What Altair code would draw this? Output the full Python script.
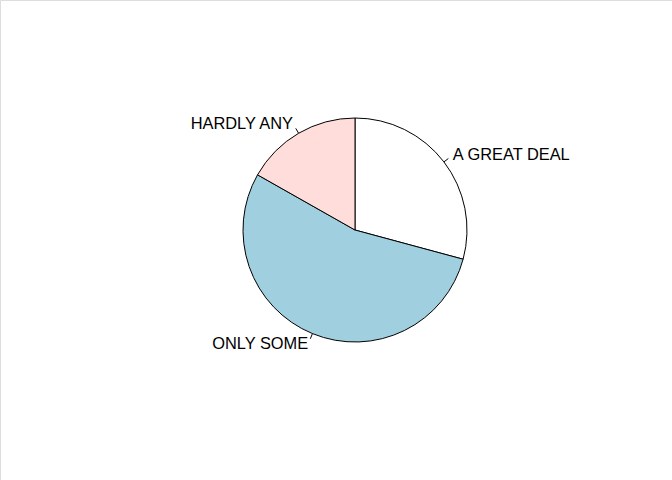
import math
import altair as alt
import pandas as pd

labels = ["A GREAT DEAL", "ONLY SOME", "HARDLY ANY"]
values = [29.2, 54.0, 16.8]
colors = ["#FFFFFF", "#A0D0E0", "#FFDDDB"]

R = 112.0
CX, CY = 355.0, 230.0
W, H = 672, 480

total = sum(values)
rows = []
cum = 0.0
for i, (lab, v) in enumerate(zip(labels, values)):
    mid = (cum + v / 2) / total * 2 * math.pi
    cum += v
    sx, sy = math.sin(mid), math.cos(mid)
    rows.append(dict(idx=i, label=lab, value=v,
                     tx0=sx, ty0=sy, tx1=1.05 * sx, ty1=1.05 * sy,
                     lx=1.1 * sx, ly=1.1 * sy,
                     side="right" if sx > 0 else "left"))
df = pd.DataFrame(rows)

xs = alt.Scale(domain=[-CX / R, (W - CX) / R], nice=False, zero=False)
ys = alt.Scale(domain=[-(H - CY) / R, CY / R], nice=False, zero=False)

base = alt.Chart(df)

pie = base.mark_arc(outerRadius=R, stroke="black", strokeWidth=1).encode(
    theta=alt.Theta("value:Q", stack=True),
    color=alt.Color("label:N", scale=alt.Scale(domain=labels, range=colors), legend=None),
    order=alt.Order("idx:Q"),
    x=alt.value(CX),
    y=alt.value(CY),
)

ticks = base.mark_rule(color="black", strokeWidth=1).encode(
    x=alt.X("tx0:Q", scale=xs, axis=None),
    y=alt.Y("ty0:Q", scale=ys, axis=None),
    x2="tx1:Q",
    y2="ty1:Q",
)

txt_r = base.transform_filter(alt.datum.side == "right").mark_text(
    align="left", baseline="middle", font="Liberation Sans", fontSize=16.4, color="black"
).encode(
    x=alt.X("lx:Q", scale=xs, axis=None),
    y=alt.Y("ly:Q", scale=ys, axis=None),
    text="label:N",
)

txt_l = base.transform_filter(alt.datum.side == "left").mark_text(
    align="right", baseline="middle", font="Liberation Sans", fontSize=16.4, color="black"
).encode(
    x=alt.X("lx:Q", scale=xs, axis=None),
    y=alt.Y("ly:Q", scale=ys, axis=None),
    text="label:N",
)

chart = alt.layer(pie, ticks, txt_r, txt_l).properties(
    width=W, height=H, padding=0, autosize="none"
).configure_view(stroke=None).configure(background="white")

chart.save("out.html", embed_options={"renderer": "svg", "actions": False})
